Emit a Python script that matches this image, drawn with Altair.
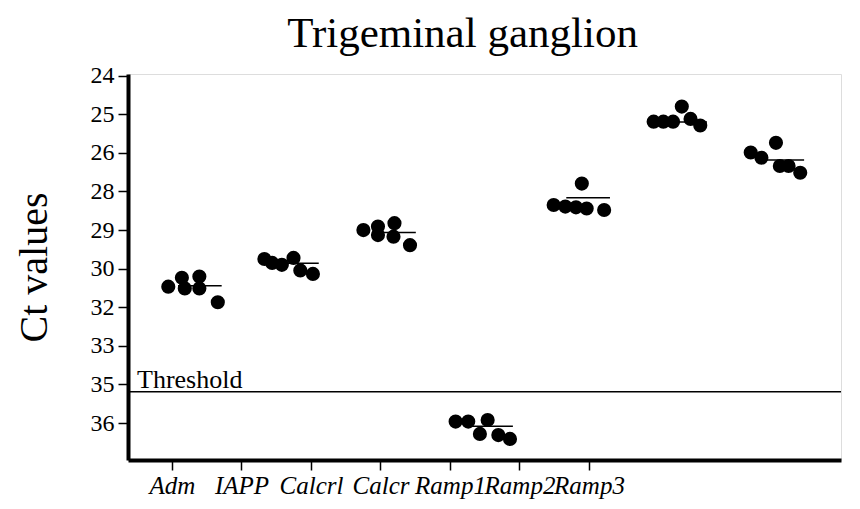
import altair as alt
import numpy as np
import pandas as pd

# ---------------- data ----------------
genes = ["Adm", "IAPP", "Calcrl", "Calcr", "Ramp1", "Ramp2", "Ramp3"]
tick_labels = [24, 25, 26, 28, 29, 30, 32, 33, 35, 36]

ct_adm = [30.93, 30.47, 31.02, 30.41, 31.02, 31.74]
ct_iapp = [29.75, 29.85, 29.90, 29.72, 30.09, 30.27]
ct_calcrl = [29.00, 28.91, 29.13, 28.82, 29.17, 29.39]
ct_calcr = [35.96, 35.96, 36.28, 35.92, 36.31, 36.41]
ct_ramp1 = [27.59, 28.35, 28.39, 28.41, 28.44, 28.48]
ct_ramp2 = [25.19, 25.19, 25.19, 24.80, 25.12, 25.29]
ct_ramp3 = [25.99, 26.25, 25.74, 26.68, 26.68, 27.03]

# horizontal swarm offsets of each dot within its group (fraction of group spacing)
off_adm = [0.00, 0.14, 0.17, 0.32, 0.32, 0.51]
off_iapp = [-0.01, 0.07, 0.17, 0.29, 0.36, 0.49]
off_calcrl = [0.01, 0.16, 0.16, 0.33, 0.32, 0.49]
off_calcr = [-0.04, 0.09, 0.21, 0.29, 0.40, 0.52]
off_ramp1 = [0.26, -0.03, 0.09, 0.20, 0.31, 0.49]
off_ramp2 = [0.00, 0.10, 0.20, 0.29, 0.38, 0.48]
off_ramp3 = [0.00, 0.11, 0.26, 0.30, 0.39, 0.51]

group_means = [30.88, 29.86, 29.06, 36.08, 28.16, 25.20, 26.37]
threshold = 35.19

# ---------------- build tables ----------------
axis_stops = tick_labels + [37]


def to_pos(v):
    return float(np.interp(v, axis_stops, list(range(len(axis_stops)))))


all_ct = [ct_adm, ct_iapp, ct_calcrl, ct_calcr, ct_ramp1, ct_ramp2, ct_ramp3]
all_off = [off_adm, off_iapp, off_calcrl, off_calcr, off_ramp1, off_ramp2, off_ramp3]

rows = []
for i, (g, cts, offs) in enumerate(zip(genes, all_ct, all_off)):
    for c, o in zip(cts, offs):
        rows.append({"gene": g, "ct": c, "pos": to_pos(c), "xg": i + o})
dots = pd.DataFrame(rows)

mean_df = pd.DataFrame({
    "gene": genes,
    "ct": group_means,
    "pos": [to_pos(m) for m in group_means],
    "x1": [i + 0.10 for i in range(len(genes))],
    "x2": [i + 0.55 for i in range(len(genes))],
})

thr_df = pd.DataFrame({"pos": [to_pos(threshold)], "label": ["Threshold"]})
axis_df = pd.DataFrame({"ti": list(range(len(genes))), "pos": [to_pos(threshold)] * len(genes)})

W, H = 713, 386
FONT = "Liberation Serif"

label_arr = "[" + ",".join("'%s'" % t for t in tick_labels) + "]"
gene_arr = "[" + ",".join("'%s'" % g for g in genes) + "]"

y_scale = alt.Scale(domain=[-0.044, 9.956], reverse=True, nice=False, zero=False)
y_axis = alt.Axis(
    values=list(range(len(tick_labels))),
    labelExpr=label_arr + "[datum.value]",
    title="Ct values",
    titleFont=FONT, titleFontSize=40, titleFontWeight="normal", titlePadding=36,
    labelFont=FONT, labelFontSize=24, labelPadding=4,
    tickSize=10, tickWidth=1.5, tickColor="black",
    domainWidth=4, domainColor="black", grid=False,
    labelColor="black", titleColor="black",
)
Y = alt.Y("pos:Q", scale=y_scale, axis=y_axis)

x_dots_scale = alt.Scale(domain=[-0.415, 6.93], nice=False, zero=False)

points = alt.Chart(dots).mark_circle(size=200, color="black", opacity=1).encode(
    x=alt.X("xg:Q", scale=x_dots_scale, axis=None),
    y=Y,
)

means = alt.Chart(mean_df).mark_rule(color="black", strokeWidth=1.5).encode(
    x=alt.X("x1:Q", scale=x_dots_scale, axis=None),
    x2="x2:Q",
    y=Y,
)

thr_rule = alt.Chart(thr_df).mark_rule(color="black", strokeWidth=1.5).encode(y=Y)
thr_text = alt.Chart(thr_df).mark_text(
    align="left", baseline="alphabetic", dy=-4, font=FONT, fontSize=26, color="black"
).encode(x=alt.value(9), y=Y, text="label:N")

dot_layer = alt.layer(means, points, thr_rule, thr_text)

axis_layer = alt.Chart(axis_df).mark_point(opacity=0).encode(
    x=alt.X(
        "ti:Q",
        scale=alt.Scale(domain=[-0.633, 9.626], nice=False, zero=False),
        axis=alt.Axis(
            values=list(range(len(genes))),
            labelExpr=gene_arr + "[datum.value]",
            title=None,
            labelFont=FONT, labelFontSize=25, labelFontStyle="italic", labelPadding=3,
            labelColor="black", labelOverlap=False, labelBound=False, labelFlush=False,
            tickSize=10, tickWidth=1.5, tickColor="black",
            domainWidth=4, domainColor="black", grid=False,
        ),
    ),
    y=Y,
)

chart = (
    alt.layer(dot_layer, axis_layer)
    .resolve_scale(x="independent")
    .properties(
        width=W,
        height=H,
        title=alt.TitleParams(
            "Trigeminal ganglion", font=FONT, fontSize=43, fontWeight="normal",
            anchor="middle", dx=-22, offset=8, color="black",
        ),
        autosize=alt.AutoSizeParams(type="none"),
        padding={"left": 120, "top": 66, "right": 10, "bottom": 41},
    )
    .configure_view(stroke=None)
    .configure(background="white")
)

chart.save("out.html", embed_options={"renderer": "svg", "actions": False})
